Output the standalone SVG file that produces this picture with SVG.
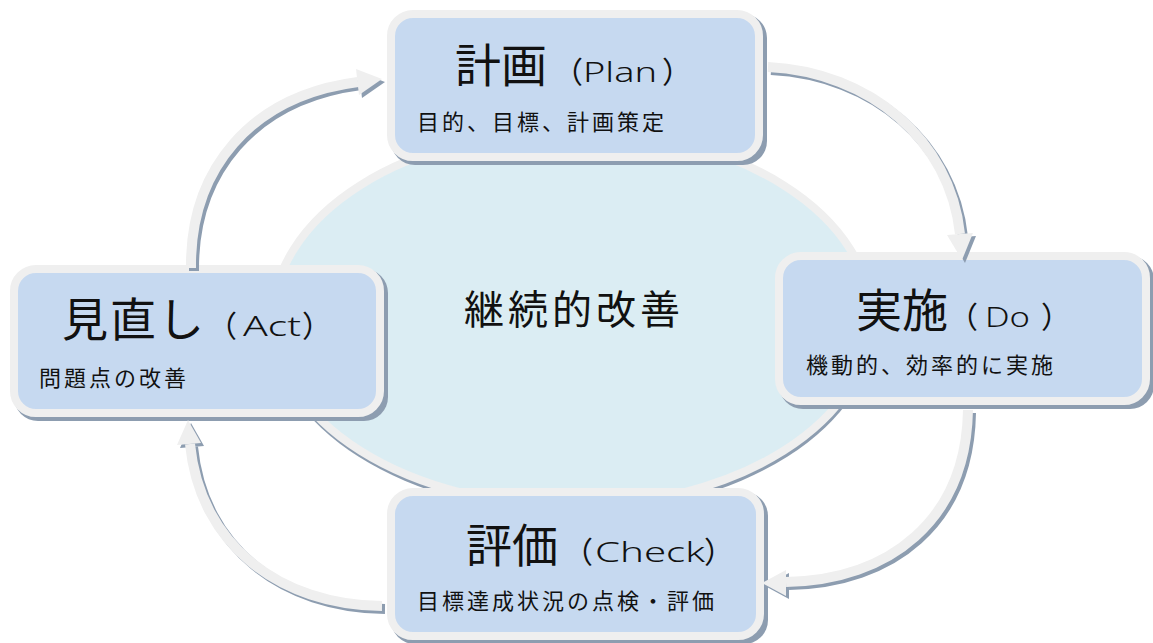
<svg xmlns="http://www.w3.org/2000/svg" width="1153" height="643" viewBox="0 0 1153 643">
<style>
.box{fill:#c6d9f0;stroke:#efefef;stroke-width:8}
.shadow{fill:#8d9db0}
.jp{font-family:"Noto Sans CJK JP","Noto Sans CJK SC",sans-serif;fill:#111}
.title{font-size:46px}
.paren{font-size:30px}
.lat{font-family:"Noto Sans","Liberation Sans",sans-serif;font-size:28px;font-weight:300;fill:#111}
.sub{font-size:22px;letter-spacing:3px}
.band{fill:none;stroke:#efefef;stroke-width:10}
.bandsh{fill:none;stroke:#8d9db0;stroke-width:10}
.head{fill:#efefef}
.headsh{fill:#8d9db0}
</style>
<rect width="1153" height="643" fill="#ffffff"/>

<g id="center">
  <ellipse cx="573" cy="321" rx="303" ry="192" fill="#8d9db0"/>
  <ellipse cx="572" cy="318" rx="299" ry="188" fill="#dbedf3" stroke="#efefef" stroke-width="8"/>
  <text class="jp" x="464" y="324" font-size="40" letter-spacing="4">継続的改善</text>
</g>

<g id="plan">
  <rect class="shadow" x="391" y="14" width="376" height="151" rx="24"/>
  <rect class="box" x="391" y="14" width="368" height="143" rx="22"/>
  <text class="jp title" x="455" y="82">計画</text>
  <text class="jp paren" x="553" y="83">（</text>
  <text class="lat" x="583" y="82" textLength="74" lengthAdjust="spacingAndGlyphs">Plan</text>
  <text class="jp paren" x="662" y="83">）</text>
  <text class="jp sub" x="417" y="130">目的、目標、計画策定</text>
</g>

<g id="do">
  <rect class="shadow" x="779" y="256" width="375" height="153" rx="24"/>
  <rect class="box" x="779" y="256" width="367" height="145" rx="22"/>
  <text class="jp title" x="856" y="327">実施</text>
  <text class="jp paren" x="948" y="328">（</text>
  <text class="lat" x="985" y="327" textLength="45" lengthAdjust="spacingAndGlyphs">Do</text>
  <text class="jp paren" x="1041" y="328">）</text>
  <text class="jp sub" x="806" y="373">機動的、効率的に実施</text>
</g>

<g id="act">
  <rect class="shadow" x="14" y="269" width="374" height="152" rx="24"/>
  <rect class="box" x="14" y="269" width="366" height="144" rx="22"/>
  <text class="jp title" x="62" y="336" letter-spacing="2">見直し</text>
  <text class="jp paren" x="207" y="337">（</text>
  <text class="lat" x="243" y="336" textLength="58" lengthAdjust="spacingAndGlyphs">Act</text>
  <text class="jp paren" x="302" y="337">）</text>
  <text class="jp sub" x="39" y="386">問題点の改善</text>
</g>

<g id="check">
  <rect class="shadow" x="391" y="492" width="377" height="152" rx="24"/>
  <rect class="box" x="391" y="492" width="369" height="144" rx="22"/>
  <text class="jp title" x="466" y="562">評価</text>
  <text class="jp paren" x="563" y="563">（</text>
  <text class="lat" x="595" y="562" textLength="110" lengthAdjust="spacingAndGlyphs">Check</text>
  <text class="jp paren" x="704" y="563">）</text>
  <text class="jp sub" x="417" y="609">目標達成状況の点検・評価</text>
</g>

<g id="connectors">
  <g transform="translate(3,3)">
    <path class="bandsh" d="M 191 268 C 190 170 250 96 358 82"/>
    <polygon class="headsh" points="356,69 382,79 359,95"/>
    <path class="bandsh" d="M 768 67 C 870 72 950 140 960 234"/>
    <polygon class="headsh" points="947,235 962,260 973,233"/>
    <path class="bandsh" d="M 968 410 C 966 520 890 580 786 582"/>
    <polygon class="headsh" points="786,570 762,583 786,596"/>
    <path class="bandsh" d="M 382 606 C 280 605 200 545 190 444"/>
    <polygon class="headsh" points="177,445 188,420 201,443"/>
  </g>
  <path class="band" d="M 191 268 C 190 170 250 96 358 82"/>
  <polygon class="head" points="356,69 382,79 359,95"/>
  <path class="band" d="M 768 67 C 870 72 950 140 960 234"/>
  <polygon class="head" points="947,235 962,260 973,233"/>
  <path class="band" d="M 968 410 C 966 520 890 580 786 582"/>
  <polygon class="head" points="786,570 762,583 786,596"/>
  <path class="band" d="M 382 606 C 280 605 200 545 190 444"/>
  <polygon class="head" points="177,445 188,420 201,443"/>
</g>
</svg>
